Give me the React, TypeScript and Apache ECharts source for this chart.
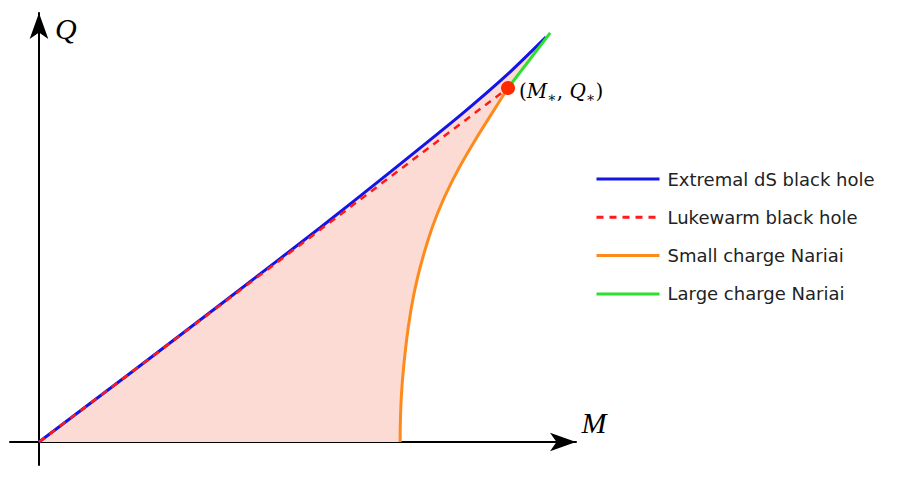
import React, { useEffect, useRef } from 'react';
import * as echarts from 'echarts';

const legendNames = [
  'Extremal dS black hole',
  'Lukewarm black hole',
  'Small charge Nariai',
  'Large charge Nariai',
];
const extremalM = [0, 0.2, 0.4, 0.6, 0.75, 0.9, 1.0, 1.081];
const extremalQ = [0, 0.2, 0.402, 0.606, 0.764, 0.925, 1.04, 1.144];
const lukewarmM = [0, 1];
const lukewarmQ = [0, 1];
const smallNariaiM = [0.77, 0.771, 0.775, 0.782, 0.792, 0.806, 0.825, 0.85, 0.882, 0.921, 0.966, 1.0];
const smallNariaiQ = [0, 0.082, 0.175, 0.268, 0.364, 0.458, 0.551, 0.647, 0.74, 0.833, 0.929, 1.0];
const largeNariaiM = [1.0, 1.09];
const largeNariaiQ = [1.0, 1.156];
const criticalPoint = [1, 1];

const zip = (xs: number[], ys: number[]) => xs.map((x, i) => [x, ys[i]]);

export default function App() {
  const ref = useRef<HTMLDivElement>(null);
  useEffect(() => {
    if (!ref.current) return;
    const chart = echarts.init(ref.current, undefined, { renderer: 'svg' });
    const extremal = zip(extremalM, extremalQ);
    const smallN = zip(smallNariaiM, smallNariaiQ);
    const fillPolygon = [...extremal, criticalPoint, ...smallN.slice().reverse()];
    const serif = 'Liberation Serif';
    chart.setOption({
      animation: false,
      backgroundColor: '#fff',
      grid: { left: 10, top: 13, width: 566, height: 452, containLabel: false },
      xAxis: {
        type: 'value',
        min: -0.0618,
        max: 1.145,
        name: 'M',
        nameLocation: 'end',
        nameGap: 5.5,
        nameTextStyle: {
          fontFamily: serif, fontStyle: 'italic', fontSize: 30, color: '#000',
          align: 'left', verticalAlign: 'bottom', padding: [0, 0, 4, 0],
        },
        axisLine: { show: true, onZero: true, symbol: ['none', 'arrow'], symbolSize: [14, 26], lineStyle: { color: '#000', width: 2 } },
        axisTick: { show: false },
        axisLabel: { show: false },
        splitLine: { show: false },
      },
      yAxis: {
        type: 'value',
        min: -0.065,
        max: 1.212,
        name: 'Q',
        nameLocation: 'end',
        nameGap: 0,
        nameTextStyle: {
          fontFamily: serif, fontStyle: 'italic', fontSize: 30, color: '#000',
          align: 'left', verticalAlign: 'top', padding: [0, 0, 0, 16], lineHeight: 30,
        },
        axisLine: { show: true, onZero: true, symbol: ['none', 'arrow'], symbolSize: [14, 26], lineStyle: { color: '#000', width: 2 } },
        axisTick: { show: false },
        axisLabel: { show: false },
        splitLine: { show: false },
      },
      legend: {
        data: legendNames,
        orient: 'vertical',
        left: 595,
        top: 169,
        padding: 0,
        itemWidth: 63,
        itemHeight: 14,
        itemGap: 18.3,
        itemStyle: { opacity: 0 },
        lineStyle: { width: 3 },
        textStyle: { fontFamily: 'DejaVu Sans', fontSize: 18, color: '#222', lineHeight: 20, padding: [0, 0, 0, 3] },
      },
      series: [
        {
          type: 'custom',
          silent: true,
          z: 1,
          data: [[0, 0]],
          renderItem: (params: any, api: any) => {
            const pts = fillPolygon.map((p) => api.coord(p));
            return { type: 'polygon', shape: { points: pts, smooth: 0 }, style: { fill: '#fddbd5' } };
          },
        },
        {
          name: legendNames[0],
          type: 'line',
          data: extremal,
          symbol: 'none',
          smooth: 0.2,
          z: 3,
          lineStyle: { color: '#1414e6', width: 3 },
          itemStyle: { color: '#1414e6' },
        },
        {
          name: legendNames[1],
          type: 'line',
          data: zip(lukewarmM, lukewarmQ),
          symbol: 'none',
          z: 4,
          lineStyle: { color: '#ff1a1a', width: 2.5, type: [7, 6] },
          itemStyle: { color: '#ff1a1a' },
        },
        {
          name: legendNames[2],
          type: 'line',
          data: smallN,
          symbol: 'none',
          smooth: 0.5,
          z: 4,
          lineStyle: { color: '#ff8a1c', width: 3 },
          itemStyle: { color: '#ff8a1c' },
        },
        {
          name: legendNames[3],
          type: 'line',
          data: zip(largeNariaiM, largeNariaiQ),
          symbol: 'none',
          z: 4,
          lineStyle: { color: '#2ee02e', width: 3 },
          itemStyle: { color: '#2ee02e' },
        },
        {
          type: 'scatter',
          data: [criticalPoint],
          symbolSize: 14,
          z: 6,
          itemStyle: { color: '#ff2a00', opacity: 1 },
          label: {
            show: true,
            position: 'right',
            distance: 4,
            offset: [0, 3],
            formatter: '{p|(}{i|M}{s|\u2217}{p|, }{i|Q}{s|\u2217}{p|)}',
            rich: {
              p: { fontFamily: 'DejaVu Serif', fontSize: 20, color: '#000', lineHeight: 26 },
              i: { fontFamily: 'DejaVu Serif', fontStyle: 'italic', fontSize: 20, color: '#000', lineHeight: 26 },
              s: { fontFamily: 'DejaVu Serif', fontSize: 14, color: '#000', lineHeight: 16, verticalAlign: 'bottom' },
            },
          },
        },
      ],
    });
    return () => chart.dispose();
  }, []);
  return <div ref={ref} style={{ position: 'fixed', left: 0, top: 0, width: 897, height: 480 }} />;
}
